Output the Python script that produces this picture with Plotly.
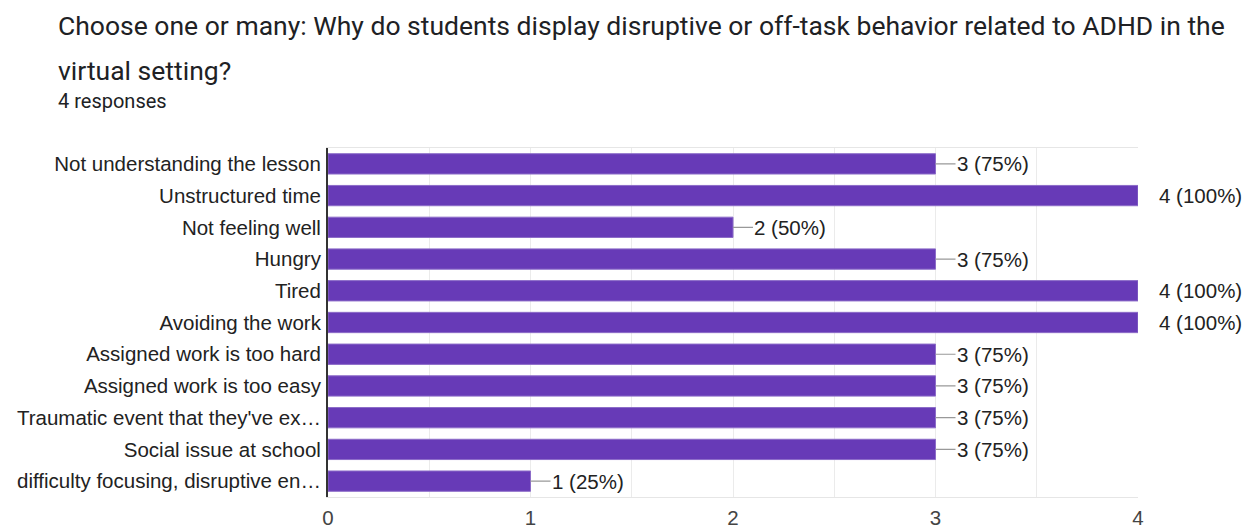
import plotly.graph_objects as go

categories = [
    "Not understanding the lesson",
    "Unstructured time",
    "Not feeling well",
    "Hungry",
    "Tired",
    "Avoiding the work",
    "Assigned work is too hard",
    "Assigned work is too easy",
    "Traumatic event that they've ex…",
    "Social issue at school",
    "difficulty focusing, disruptive en…",
]
counts = [3, 4, 2, 3, 4, 4, 3, 3, 3, 3, 1]
total_responses = 4
tick_values = [0, 1, 2, 3, 4]

title_line1 = "Choose one or many: Why do students display disruptive or off-task behavior related to ADHD in the"
title_line2 = "virtual setting?"
subtitle = f"{total_responses} responses"

BAR = "#673ab7"
FONT_LABEL = "Liberation Sans, Arial, sans-serif"
FONT_TITLE = "Roboto, sans-serif"
LABEL_SIZE = 20.5

W, H = 1249, 529
L, R, T, B = 328, 111, 148, 32
pw, ph = W - L - R, H - T - B

def px_to_paper(xp, yp):
    return (xp - L) / pw, (H - B - yp) / ph

fig = go.Figure()
fig.add_trace(go.Bar(
    y=categories, x=counts, orientation="h",
    marker=dict(color=BAR, line=dict(color="#8c6cc8", width=1)),
    hoverinfo="skip",
))

anns = []
max_v = max(counts)
for c, v in zip(categories, counts):
    pct = round(100 * v / total_responses)
    anns.append(dict(
        x=v, y=c, xref="x", yref="y",
        text=f"{v} ({pct}%)",
        showarrow=True, ax=20, ay=0, axref="pixel", ayref="pixel",
        xanchor="left", yanchor="middle",
        arrowhead=0, arrowwidth=1.2, standoff=0, borderpad=0,
        arrowcolor="rgba(0,0,0,0)" if v >= max_v else "#999999",
        font=dict(family=FONT_LABEL, size=LABEL_SIZE, color="#222222"),
    ))

for text, xp, yp, size in [
    (title_line1, 56, 25, 26.5),
    (title_line2, 56, 70, 26.5),
    (subtitle, 56, 101, 20),
]:
    xx, yy = px_to_paper(xp, yp)
    anns.append(dict(x=xx, y=yy, xref="paper", yref="paper", text=text,
                     showarrow=False, xanchor="left", yanchor="middle",
                     font=dict(family=FONT_TITLE, size=size, color="#202124")))
fig.layout.annotations = anns

fig.update_layout(
    width=W, height=H,
    margin=dict(l=L, r=R, t=T, b=B, autoexpand=False),
    plot_bgcolor="white", paper_bgcolor="white",
    showlegend=False,
    bargap=0.36,
    font=dict(family=FONT_LABEL, size=LABEL_SIZE, color="#222222"),
)
fig.update_xaxes(
    range=[0, max(tick_values)], tickvals=tick_values,
    showgrid=True, gridcolor="#ebebeb", gridwidth=1,
    minor=dict(dtick=0.5, showgrid=True, gridcolor="#ebebeb", gridwidth=1),
    zeroline=False,
    showline=True, linecolor="#e6e6e6", linewidth=1, mirror=True,
    ticks="", ticklabelstandoff=2, automargin=False,
    tickfont=dict(family=FONT_LABEL, size=LABEL_SIZE, color="#444444"),
    fixedrange=True,
)
fig.update_yaxes(
    autorange="reversed",
    showline=True, linecolor="#333333", linewidth=2,
    showgrid=False, zeroline=False, ticks="",
    ticklabelstandoff=1, automargin=False,
    tickfont=dict(family=FONT_LABEL, size=LABEL_SIZE, color="#222222"),
    fixedrange=True,
)

fig.write_html(
    "out.html",
    config={"displayModeBar": False},
    post_script="document.body.style.margin='0px';document.body.style.overflow='hidden';",
)
